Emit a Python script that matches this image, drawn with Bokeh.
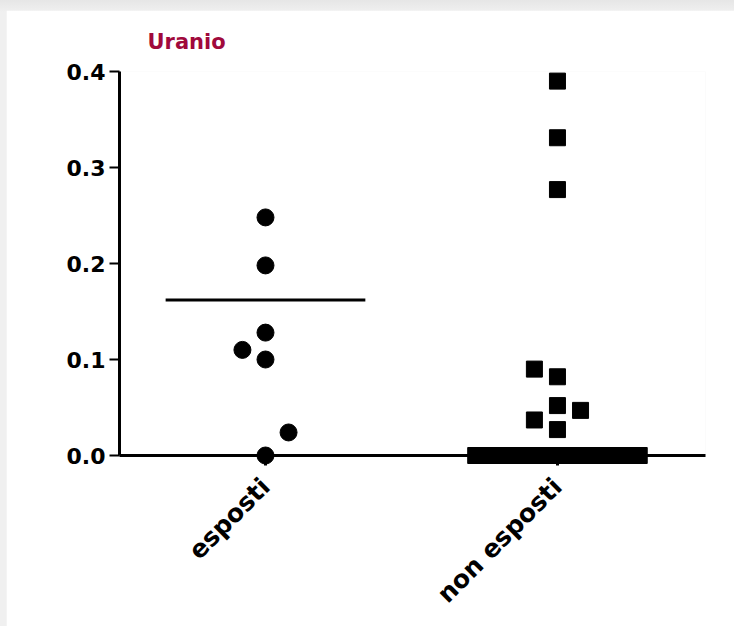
import math
from collections import Counter

from bokeh.plotting import figure
from bokeh.models import Range1d, FixedTicker, ColumnDataSource
from bokeh.layouts import column
from bokeh.embed import file_html
from bokeh.resources import INLINE

# ---------------- data ----------------
title_text = "Uranio"
categories = ["esposti", "non esposti"]
esposti = [0.248, 0.198, 0.128, 0.100, 0.110, 0.0, 0.024]
non_esposti = [0.390, 0.331, 0.277, 0.082, 0.090, 0.052, 0.047, 0.037, 0.027,
               0.0, 0.0, 0.0, 0.0, 0.0, 0.0, 0.0, 0.0, 0.0, 0.0, 0.0, 0.0]
center_lines = [0.162, 0.0]
y_ticks = [0.0, 0.1, 0.2, 0.3, 0.4]

# ---------------- layout helpers ----------------
SLOT = 0.079      # horizontal step of the swarm, in category units
MAX_HALF = 0.28   # widest half-spread of a row of tied values
TOL = 0.0245      # vertical closeness that forces a point sideways
_turn = [0]


def swarm(vals, cx):
    xs = [None] * len(vals)
    placed = []
    cnt = Counter(vals)
    for v, n in cnt.items():
        if n > 1:
            step = min(SLOT, 2 * MAX_HALF / (n - 1))
            idx = [i for i, u in enumerate(vals) if u == v]
            for k, i in enumerate(idx):
                xs[i] = cx + (k - (n - 1) / 2) * step
                placed.append((xs[i], v))
    for i, v in enumerate(vals):
        if xs[i] is not None:
            continue

        def free(x):
            return all(not (abs(px - x) < 0.9 * SLOT and abs(py - v) < TOL)
                       for px, py in placed)
        if free(cx):
            x = cx
        else:
            d = -1 if _turn[0] % 2 == 0 else 1
            _turn[0] += 1
            k = 1
            while True:
                if free(cx + d * k * SLOT):
                    x = cx + d * k * SLOT
                    break
                if free(cx - d * k * SLOT):
                    x = cx - d * k * SLOT
                    break
                k += 1
        xs[i] = x
        placed.append((x, v))
    return xs


positions = [1, 2]
src_a = ColumnDataSource(dict(x=swarm(esposti, positions[0]), y=esposti))
src_b = ColumnDataSource(dict(x=swarm(non_esposti, positions[1]), y=non_esposti))
half = 0.342
src_l = ColumnDataSource(dict(x0=[c - half for c in positions],
                              x1=[c + half for c in positions],
                              y=center_lines))

p = figure(width=728, height=616,
           x_range=Range1d(0.5, 2.507), y_range=Range1d(y_ticks[0], y_ticks[-1]),
           output_backend="svg", toolbar_location=None,
           min_border_left=113, min_border_right=29,
           min_border_top=60, min_border_bottom=171)
p.margin = (10, 0, 0, 6)
p.background_fill_color = "white"
p.border_fill_color = "white"
p.outline_line_color = None
p.xgrid.visible = False
p.ygrid.visible = False

p.title.text = title_text
p.title.text_font = "DejaVu Sans"
p.title.text_font_style = "bold"
p.title.text_font_size = "21px"
p.title.text_color = "#a0093c"
p.title.align = "left"
p.title.offset = 28
p.title.standoff = 35

ax = p.xaxis[0]
ax.ticker = FixedTicker(ticks=positions)
ax.major_label_overrides = {positions[i]: categories[i] for i in range(len(categories))}
ax.major_label_orientation = math.pi / 4
ax.axis_line_width = 3
ax.axis_line_color = "black"
ax.major_tick_line_width = 3
ax.major_tick_in = 0
ax.major_tick_out = 10
ax.minor_tick_line_color = None
ax.major_label_text_font = "DejaVu Sans"
ax.major_label_text_font_style = "bold"
ax.major_label_text_font_size = "25px"
ax.major_label_text_color = "black"
ax.major_label_standoff = 17

ay = p.yaxis[0]
ay.ticker = FixedTicker(ticks=y_ticks)
ay.major_label_overrides = {t: f"{t:.1f}" for t in y_ticks}
ay.axis_line_width = 3
ay.axis_line_color = "black"
ay.major_tick_line_width = 2
ay.major_tick_in = 0
ay.major_tick_out = 10
ay.minor_tick_line_color = None
ay.major_label_text_font = "DejaVu Sans"
ay.major_label_text_font_style = "bold"
ay.major_label_text_font_size = "22px"
ay.major_label_text_color = "black"
ay.major_label_standoff = 4

p.segment(x0="x0", x1="x1", y0="y", y1="y", source=src_l,
          line_color="black", line_width=3, level="overlay")
p.scatter("x", "y", source=src_a, marker="circle", size=17,
          fill_color="black", line_color="black", level="overlay")
p.scatter("x", "y", source=src_b, marker="square", size=16,
          fill_color="black", line_color="black", level="overlay")

layout = column(p, width=734, height=626,
                styles={"background": "linear-gradient(#e6e6e6, #f0f0f0 12px)"})

open("out.html", "w").write(file_html(layout, INLINE))
